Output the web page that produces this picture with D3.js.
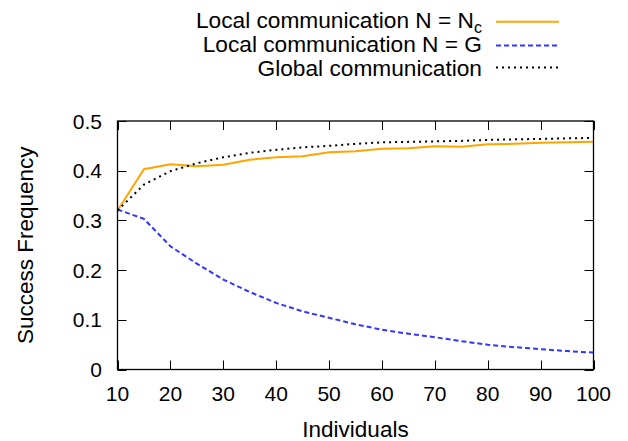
<!DOCTYPE html>
<html><head><meta charset="utf-8">
<script src="https://cdn.jsdelivr.net/npm/d3@7"></script>
<style>body{margin:0;background:#fff}svg{display:block}text{font-family:"Liberation Sans",Arial,Helvetica,sans-serif;fill:#000}</style>
</head><body><svg id="c" width="628" height="441"></svg>
<script>
const individuals = [10,15,20,25,30,35,40,45,50,55,60,65,70,75,80,85,90,95,100];
const localNc = [0.320,0.403,0.413,0.409,0.412,0.422,0.427,0.429,0.437,0.439,0.444,0.445,0.449,0.448,0.453,0.454,0.456,0.457,0.458];
const localG  = [0.322,0.303,0.248,0.213,0.181,0.156,0.134,0.117,0.104,0.091,0.080,0.072,0.065,0.057,0.050,0.045,0.041,0.037,0.034];
const globalC = [0.320,0.372,0.399,0.415,0.427,0.436,0.442,0.447,0.450,0.454,0.457,0.458,0.459,0.460,0.462,0.463,0.464,0.465,0.466];
const xTicks = [10,20,30,40,50,60,70,80,90,100];
const yTicks = [0,0.1,0.2,0.3,0.4,0.5];
const seriesNames = ["Local communication N = N", "Local communication N = G", "Global communication"];

const svg = d3.select("#c");
const L=117.5, R=593.5, T=121, B=369.5;
const x = d3.scaleLinear().domain([10,100]).range([L,R]);
const y = d3.scaleLinear().domain([0,0.5]).range([B,T]);

const series = [
  {vals: localNc, color:"#ffa500", dash:null},
  {vals: localG, color:"#3535ff", dash:"5,3"},
  {vals: globalC, color:"#000", dash:"2,4"}
];

// ticks (inward, mirrored)
const tl = 9;
const g = svg.append("g").attr("stroke","#000").attr("stroke-width",1);
xTicks.forEach(t=>{
  const px = Math.round(x(t))+0.5;
  g.append("line").attr("x1",px).attr("x2",px).attr("y1",B).attr("y2",B-tl);
  g.append("line").attr("x1",px).attr("x2",px).attr("y1",T).attr("y2",T+tl);
});
yTicks.forEach(t=>{
  const py = Math.round(y(t))+0.5;
  g.append("line").attr("x1",L).attr("x2",L+tl).attr("y1",py).attr("y2",py);
  g.append("line").attr("x1",R).attr("x2",R-tl).attr("y1",py).attr("y2",py);
});

// lines
const line = d3.line().x((d,i)=>x(individuals[i])).y(d=>y(d));
series.forEach(s=>{
  svg.append("path").attr("d",line(s.vals)).attr("fill","none")
    .attr("stroke",s.color).attr("stroke-width",2)
    .attr("stroke-dasharray",s.dash);
});

// frame
svg.append("rect").attr("x",L).attr("y",T).attr("width",R-L).attr("height",B-T)
  .attr("fill","none").attr("stroke","#000").attr("stroke-width",1.3);

// tick labels
xTicks.forEach(t=>{
  svg.append("text").attr("x",x(t)).attr("y",401).attr("text-anchor","middle")
    .attr("font-size",21).text(t);
});
yTicks.forEach(t=>{
  svg.append("text").attr("x",102).attr("y",y(t)+7.5).attr("text-anchor","end")
    .attr("font-size",21).text(t===0?"0":d3.format(".1f")(t));
});

// axis titles
svg.append("text").attr("x",(L+R)/2).attr("y",437).attr("text-anchor","middle")
  .attr("font-size",22.5).text("Individuals");
svg.append("text").attr("transform",`translate(33,${(T+B)/2}) rotate(-90)`)
  .attr("text-anchor","middle").attr("font-size",22.5).text("Success Frequency");

// legend
const baselines=[27.7,52.3,76.3], lineYs=[21.7,45.5,67.5];
series.forEach((s,i)=>{
  const t = svg.append("text").attr("x",482).attr("y",baselines[i])
    .attr("text-anchor","end").attr("font-size",22.7);
  t.append("tspan").text(seriesNames[i]);
  if(i===0) t.append("tspan").attr("font-size",16).attr("dy",5).text("c");
  svg.append("line").attr("x1",496).attr("x2",559).attr("y1",lineYs[i]).attr("y2",lineYs[i])
    .attr("stroke",s.color).attr("stroke-width",2).attr("stroke-dasharray",s.dash);
});
</script></body></html>
